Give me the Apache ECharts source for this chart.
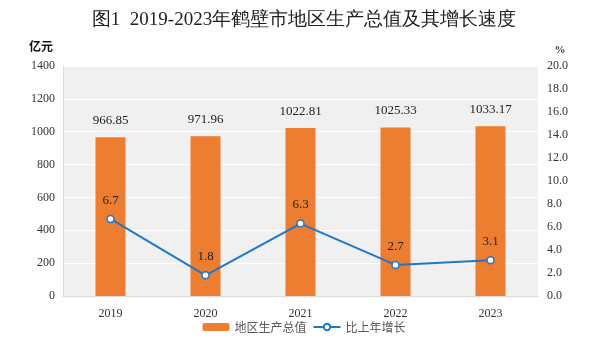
<!DOCTYPE html>
<html><head><meta charset="utf-8">
<script src="https://cdn.jsdelivr.net/npm/echarts@6/dist/echarts.min.js"></script>
<style>html,body{margin:0;padding:0;background:#fff}#c{width:608px;height:348px}</style>
</head><body><div id="c"></div>
<script>
const categories = ['2019','2020','2021','2022','2023'];
const gdp = [966.85, 971.96, 1022.81, 1025.33, 1033.17];
const growth = [6.7, 1.8, 6.3, 2.7, 3.1];
const serif = '"Times New Roman","Liberation Serif",serif';
const chart = echarts.init(document.getElementById('c'));
chart.setOption({
  animation:false,
  title:{text:'图1  2019-2023年鹤壁市地区生产总值及其增长速度',left:'center',top:6,
    textStyle:{fontFamily:serif,fontSize:19,fontWeight:'normal',color:'#222'}},
  grid:{left:63,right:70,top:66,bottom:52,show:true,backgroundColor:'#f0f0f0',borderWidth:0},
  legend:{bottom:10,left:'center',itemGap:6,itemWidth:27,itemHeight:8,
    textStyle:{fontFamily:'"Noto Sans CJK SC",sans-serif',fontSize:12,color:'#595959'},
    data:[{name:'地区生产总值'},{name:'比上年增长'}]},
  xAxis:{type:'category',data:categories,
    axisLine:{lineStyle:{color:'#d9d9d9'}},axisTick:{show:false},
    axisLabel:{fontFamily:serif,fontSize:12,color:'#333',margin:12}},
  yAxis:[{type:'value',min:0,max:1400,interval:200,name:'亿元',
    nameTextStyle:{fontFamily:'"Noto Sans CJK SC",sans-serif',fontWeight:'bold',fontSize:12,color:'#111',padding:[0,44,0,0]},
    nameGap:14,
    axisLine:{show:true,lineStyle:{color:'#d9d9d9'}},axisTick:{show:false},
    splitLine:{lineStyle:{color:'#ffffff',width:1}},
    axisLabel:{fontFamily:serif,fontSize:12,color:'#333',margin:8,formatter:v=>String(v)}},
   {type:'value',min:0,max:20,interval:2,name:'%',
    nameTextStyle:{fontFamily:serif,fontWeight:'bold',fontSize:11,color:'#333',padding:[0,0,0,44]},
    nameGap:10,
    axisLine:{show:false},axisTick:{show:false},splitLine:{show:false},
    axisLabel:{fontFamily:serif,fontSize:12,color:'#333',margin:9,formatter:v=>v.toFixed(1)}}],
  series:[
   {name:'地区生产总值',type:'bar',data:gdp,barWidth:30,itemStyle:{color:'#ed7d31'},
    label:{show:true,position:'top',distance:10,fontFamily:serif,fontSize:13,color:'#222',formatter:p=>p.value.toFixed(2)}},
   {name:'比上年增长',type:'line',yAxisIndex:1,data:growth,symbol:'circle',symbolSize:7,
    lineStyle:{color:'#1f77c8',width:2},itemStyle:{color:'#fff',borderColor:'#1f77c8',borderWidth:1.5},
    label:{show:true,position:'top',distance:8,fontFamily:serif,fontSize:13,color:'#222',formatter:p=>p.value.toFixed(1)}}
  ]
});
</script></body></html>
